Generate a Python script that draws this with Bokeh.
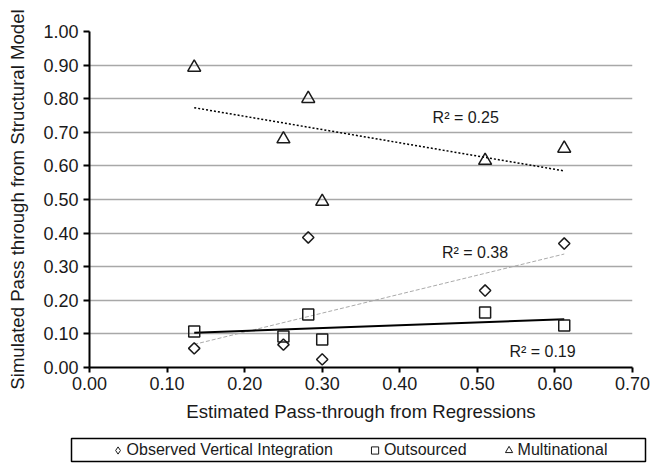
import numpy as np
from bokeh.plotting import figure
from bokeh.models import FixedTicker, PrintfTickFormatter, Label, Legend, LegendItem, Range1d
from bokeh.layouts import column
from bokeh.embed import file_html
from bokeh.resources import INLINE

# ---------------- data ----------------
estimated_pass_through = [0.135, 0.250, 0.282, 0.300, 0.510, 0.612]
observed_vertical_integration = [0.057, 0.068, 0.387, 0.024, 0.229, 0.369]
outsourced = [0.107, 0.092, 0.158, 0.083, 0.164, 0.125]
multinational = [0.893, 0.680, 0.800, 0.494, 0.616, 0.652]
series_names = ["Observed Vertical Integration", "Outsourced", "Multinational"]
r2_labels = ["R\u00b2 = 0.38", "R\u00b2 = 0.19", "R\u00b2 = 0.25"]
r2_x = [0.497, 0.584, 0.485]
r2_y = [0.342, 0.048, 0.744]
x_ticks = [0.0, 0.1, 0.2, 0.3, 0.4, 0.5, 0.6, 0.7]
y_ticks = [0.0, 0.1, 0.2, 0.3, 0.4, 0.5, 0.6, 0.7, 0.8, 0.9, 1.0]

FONT = "Liberation Sans"
TXT = "#1a1a1a"

p = figure(width=653, height=434, x_range=Range1d(0, 0.7), y_range=Range1d(0, 1.0),
           toolbar_location=None, output_backend="svg",
           min_border_left=89, min_border_right=21, min_border_top=31, min_border_bottom=67)
p.frame_align = False
p.outline_line_color = None
p.background_fill_color = "white"
p.xgrid.visible = False
p.ygrid.ticker = FixedTicker(ticks=y_ticks)
p.ygrid.grid_line_color = "#a8a8a8"
p.ygrid.grid_line_width = 1.5

p.xaxis.ticker = FixedTicker(ticks=x_ticks)
p.yaxis.ticker = FixedTicker(ticks=y_ticks)
for ax in (p.xaxis, p.yaxis):
    ax.formatter = PrintfTickFormatter(format="%.2f")
    ax.axis_line_color = "black"
    ax.axis_line_width = 2
    ax.major_tick_line_color = "black"
    ax.major_tick_line_width = 2
    ax.major_tick_in = 0
    ax.minor_tick_line_color = None
    ax.major_label_text_font = FONT
    ax.major_label_text_font_size = "18px"
    ax.major_label_text_color = TXT
    ax.axis_label_text_font = FONT
    ax.axis_label_text_font_size = "18.6px"
    ax.axis_label_text_font_style = "normal"
    ax.axis_label_text_color = TXT
p.xaxis.major_tick_out = 5
p.yaxis.major_tick_out = 6
p.xaxis.major_label_standoff = 4
p.yaxis.major_label_standoff = 5
p.xaxis.axis_label = "Estimated Pass-through from Regressions"
p.yaxis.axis_label = "Simulated Pass through from Structural Model"
p.xaxis.axis_label_standoff = 8
p.yaxis.axis_label_standoff = 12

x = np.array(estimated_pass_through)
xs = np.array([x.min(), x.max()])
trend_styles = [
    dict(line_color="#aaaaaa", line_width=1, line_dash="4 2"),
    dict(line_color="black", line_width=2, line_dash="solid"),
    dict(line_color="black", line_width=1.5, line_dash="2 2"),
]
series = [observed_vertical_integration, outsourced, multinational]
for ys, st in zip(series, trend_styles):
    m, b = np.polyfit(x, np.array(ys), 1)
    p.line(xs, m * xs + b, **st)

marker_styles = [
    dict(marker="square", size=8, angle=np.pi / 4),
    dict(marker="square", size=11, angle=0),
    dict(marker="triangle", size=13, angle=0),
]
for ys, st in zip(series, marker_styles):
    p.scatter(x, ys, line_color="#1a1a1a", line_width=1.5, fill_alpha=0, **st)

for t, lx, ly in zip(r2_labels, r2_x, r2_y):
    p.add_layout(Label(x=lx, y=ly, text=t, text_align="center", text_baseline="middle",
                       text_font=FONT, text_font_size="16px", text_color=TXT))

# ---------------- legend box ----------------
leg = figure(width=653, height=29, x_range=(0, 1), y_range=(0, 1), toolbar_location=None,
             output_backend="svg", x_axis_location=None, y_axis_location=None,
             min_border_left=71, min_border_right=8, min_border_top=4, min_border_bottom=2)
leg.frame_align = False
leg.outline_line_color = "black"
leg.outline_line_width = 1.5
leg.xgrid.visible = False
leg.ygrid.visible = False
legend_markers = ["diamond", "square", "triangle"]
items = []
for name, mk in zip(series_names, legend_markers):
    # hidden placeholder renderer (outside the visible range) used only for the legend key
    r = leg.scatter([-1], [-1], marker=mk, line_color="#1a1a1a", line_width=1, fill_alpha=0)
    items.append(LegendItem(label=name, renderers=[r]))
legend = Legend(items=items, orientation="horizontal", location="center",
                border_line_color=None, background_fill_alpha=0, padding=0, margin=0,
                spacing=33, glyph_width=18, glyph_height=18, label_standoff=-2,
                label_text_font=FONT, label_text_font_size="16px", label_text_color=TXT)
leg.add_layout(legend, "center")

layout = column(p, leg)
open("out.html", "w").write(file_html(layout, INLINE))
